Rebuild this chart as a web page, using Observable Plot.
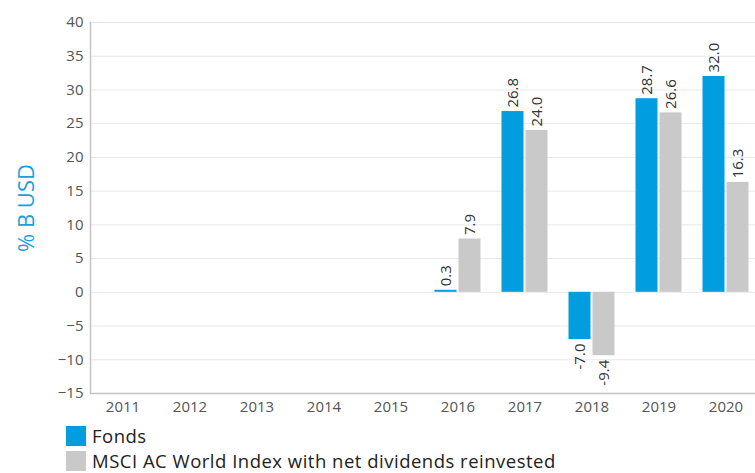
<!DOCTYPE html>
<html>
<head>
<meta charset="utf-8">
<script src="https://cdn.jsdelivr.net/npm/d3@7"></script>
<script src="https://cdn.jsdelivr.net/npm/@observablehq/plot@0.6"></script>
<style>
  html, body { margin: 0; padding: 0; background: #fff; }
  body { width: 755px; height: 473px; overflow: hidden; font-family: "Open Sans", Lato, sans-serif; }
  #legend { position: absolute; left: 66px; top: 423px; font-size: 18.5px; letter-spacing: 0.5px; color: #222; line-height: 25px; }
  .item { display: flex; align-items: center; height: 25px; }
  .sw { width: 20px; height: 20px; margin-right: 6px; flex: none; }
</style>
</head>
<body>
<div id="chart"></div>
<div id="legend"></div>
<script>
const years = ["2011","2012","2013","2014","2015","2016","2017","2018","2019","2020"];
const fonds = [null, null, null, null, null, 0.3, 26.8, -7.0, 28.7, 32.0];
const msci  = [null, null, null, null, null, 7.9, 24.0, -9.4, 26.6, 16.3];
const yTicks = [-15, -10, -5, 0, 5, 10, 15, 20, 25, 30, 35, 40];
const seriesNames = ["Fonds", "MSCI AC World Index with net dividends reinvested"];
const colors = ["#009ddf", "#c9c9c9"];

const rowsF = years.map((y, i) => ({year: y, value: fonds[i]})).filter(d => d.value != null);
const rowsM = years.map((y, i) => ({year: y, value: msci[i]})).filter(d => d.value != null);
const fmt = d => d.value.toFixed(1);
const textOpts = {fontSize: 15, fill: "#333", rotate: -90, lineAnchor: "middle", text: fmt, x: "year", y: "value"};

const chart = Plot.plot({
  width: 755,
  height: 425,
  marginTop: 22,
  marginBottom: 32,
  marginLeft: 90,
  marginRight: 0,
  style: {fontFamily: "'Open Sans', Lato, sans-serif", color: "#555", background: "#fff"},
  x: {domain: years, range: [88.5, 758.5], padding: 0},
  y: {domain: [-15, 40]},
  marks: [
    Plot.ruleY(yTicks, {stroke: "#e8e8e8", strokeWidth: 1}),
    Plot.ruleY([-15], {stroke: "#c4c4c4", strokeWidth: 1.5}),
    Plot.frame({anchor: "left", stroke: "#c4c4c4", strokeWidth: 1.5}),
    Plot.barY(rowsF, {x: "year", y: "value", fill: colors[0], dx: -12, insetLeft: 22.5, insetRight: 22.5}),
    Plot.barY(rowsM, {x: "year", y: "value", fill: colors[1], dx: 12, insetLeft: 22.5, insetRight: 22.5}),
    Plot.text(rowsF.filter(d => d.value >= 0), {...textOpts, textAnchor: "start", dx: -12, dy: -4}),
    Plot.text(rowsF.filter(d => d.value < 0), {...textOpts, textAnchor: "end", dx: -12, dy: 4}),
    Plot.text(rowsM.filter(d => d.value >= 0), {...textOpts, textAnchor: "start", dx: 12, dy: -4}),
    Plot.text(rowsM.filter(d => d.value < 0), {...textOpts, textAnchor: "end", dx: 12, dy: 4}),
    Plot.axisY(yTicks, {tickSize: 0, tickPadding: 7, fontSize: 15, label: null, fill: "#555"}),
    Plot.axisY({ticks: [], label: "% B USD", labelAnchor: "center", labelArrow: "none", labelOffset: 72, fontSize: 22, fill: "#1a9ee0"}),
    Plot.axisX({tickSize: 0, tickPadding: 8, fontSize: 15, label: null, fill: "#555"})
  ]
});
document.getElementById("chart").appendChild(chart);

const legend = document.getElementById("legend");
seriesNames.forEach((name, i) => {
  const item = document.createElement("div");
  item.className = "item";
  const sw = document.createElement("div");
  sw.className = "sw";
  sw.style.background = colors[i];
  const label = document.createElement("span");
  label.textContent = name;
  item.appendChild(sw);
  item.appendChild(label);
  legend.appendChild(item);
});
</script>
</body>
</html>
